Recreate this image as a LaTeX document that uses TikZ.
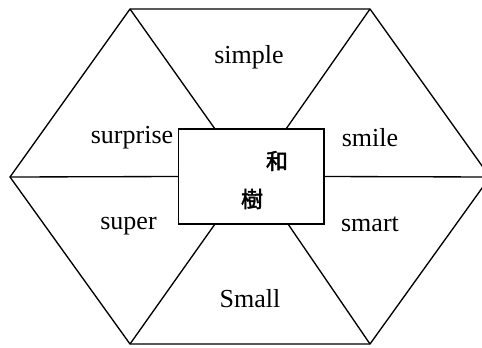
\documentclass[tikz,border=0pt]{standalone}
\usepackage{fontspec}
\setmainfont{Liberation Serif}
\newfontfamily\cjk[FakeBold=2]{Noto Sans CJK JP}
\usetikzlibrary{positioning}

\begin{document}
\begin{tikzpicture}[
  x=0.75pt, y=-0.75pt,
  edge/.style={line width=1pt},
  word/.style={font=\fontsize{19.5}{23}\selectfont, inner sep=0pt},
  kanji/.style={font=\cjk\fontsize{16.5}{20}\selectfont, inner sep=0pt},
  box/.style={draw, line width=1pt, fill=white, minimum width=145.5*0.75pt, minimum height=95*0.75pt, inner sep=0pt}
]
\useasboundingbox (0,0) rectangle (482,347);
\clip (0,0) rectangle (482,347);
% hexagon corners
\coordinate (tl) at (130,9);
\coordinate (tr) at (370,9);
\coordinate (r) at (490,177);
\coordinate (br) at (370,344);
\coordinate (bl) at (130,344);
\coordinate (l) at (10,177);
\draw[edge] (tl) -- (tr) -- (r) -- (br) -- (bl) -- (l) -- cycle;
% centre box
\node[box] (name) at (251.25,176.5) {};
\coordinate (ntl) at (215,129);
\coordinate (ntr) at (286,129);
\coordinate (nbl) at (215,224);
\coordinate (nbr) at (288,224);
\draw[edge] (tl) -- (ntl);
\draw[edge] (tr) -- (ntr);
\draw[edge] (bl) -- (nbl);
\draw[edge] (br) -- (nbr);
\draw[edge] (l) -- (name.west);
\draw[edge] (r) -- (name.east);
\node[kanji] (wa) at (277,161) {和};
\node[kanji] (ki) at (252,199) {樹};
% words
\node[word] (simple) at (249,57) {simple};
\node[word] (surprise) at (132,138) {surprise};
\node[word] (smile) at (370,138) {smile};
\node[word] (super) at (128.5,226) {super};
\node[word] (smart) at (370,224) {smart};
\node[word] (small) at (250,299) {Small};
\end{tikzpicture}
\end{document}
